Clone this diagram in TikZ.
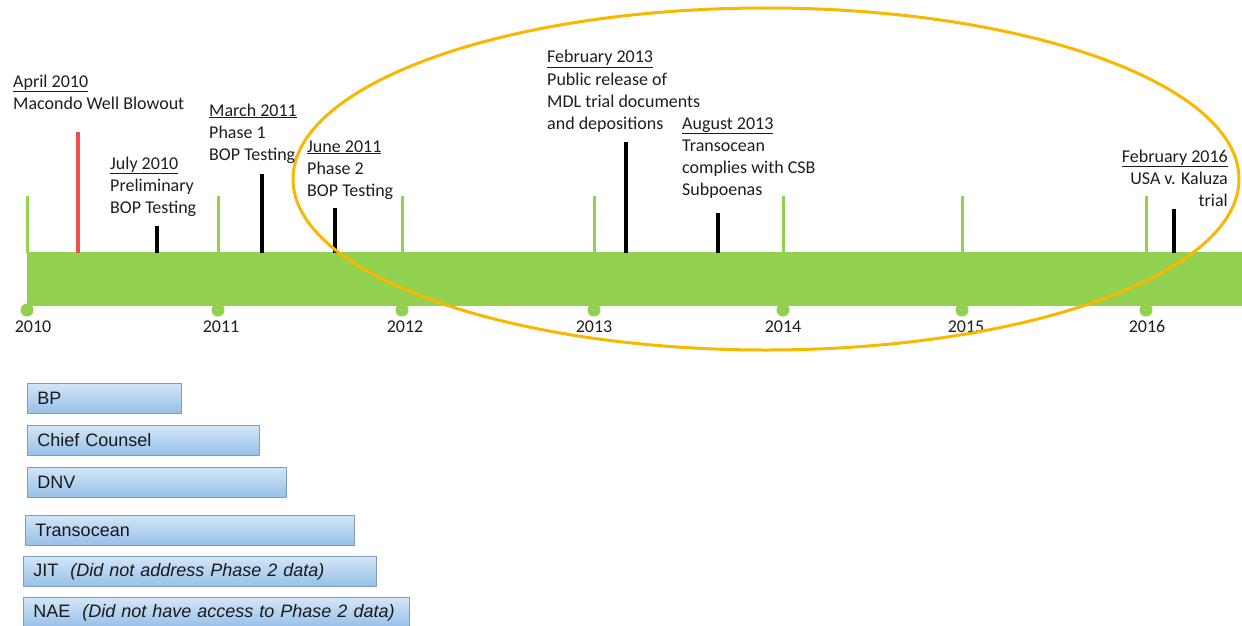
\documentclass[tikz,border=0pt]{standalone}
\usepackage{fontspec}
\setmainfont{Carlito}
\newfontfamily\arialf{Liberation Sans}
\definecolor{tlgreen}{HTML}{92D050}
\definecolor{tlred}{HTML}{F04E4E}
\definecolor{tlorange}{HTML}{F8B800}
\definecolor{tltext}{HTML}{1E1E1E}
\definecolor{boxtop}{HTML}{D2E6F8}
\definecolor{boxbot}{HTML}{96C0E8}
\definecolor{boxedge}{HTML}{7E9CC0}
\begin{document}
\begin{tikzpicture}[x=1pt,y=-1pt,
  lbl/.style={anchor=base west,inner sep=0pt,text=tltext,font=\fontsize{18}{22}\selectfont},
  lblr/.style={anchor=base east,inner sep=0pt,text=tltext,font=\fontsize{18}{22}\selectfont},
  yearlbl/.style={anchor=base,inner sep=0pt,text=tltext,font=\fontsize{18}{22}\selectfont},
  yeartick/.style={draw=tlgreen,line width=3pt},
  evtick/.style={draw=black,line width=4pt},
  redtick/.style={draw=tlred,line width=4pt},
  orgbox/.style={anchor=north west,draw=boxedge,line width=0.8pt,top color=boxtop,bottom color=boxbot,
    minimum height=30pt,inner xsep=10pt,inner ysep=0pt,align=left,text=black!90,
    font=\arialf\fontsize{18}{21}\selectfont}
]
\useasboundingbox (0,0) rectangle (1242,626);
\fill[white] (0,0) rectangle (1242,626);

% green bar
\fill[tlgreen] (27,252) rectangle (1242,306);
% year ticks, dots and labels
\foreach \x/\yr/\dx in {27/2010/6,218/2011/3,402/2012/3,594/2013/0,783/2014/0,962/2015/4,1146/2016/1}{
  \draw[yeartick] (\x,253) -- (\x,196);
  \fill[tlgreen] (\x,310) circle (6.5);
  \node[yearlbl] (y\yr) at (\x+\dx,332) {\yr};
}
% event ticks
\draw[redtick] (78,253) -- (78,132);
\draw[evtick] (157,253) -- (157,226);
\draw[evtick] (262,253) -- (262,174);
\draw[evtick] (335,253) -- (335,208);
\draw[evtick] (626,253) -- (626,142);
\draw[evtick] (718,253) -- (718,213);
\draw[evtick] (1174,253) -- (1174,209);

% ellipse
\draw[tlorange,line width=3pt] (766,179) ellipse [x radius=473,y radius=171];

% event labels
\node[lbl] (a1) at (13,87) {\underline{April 2010}};
\node[lbl] (a2) at (13,110) {Macondo Well Blowout};

\node[lbl] (b1) at (110,169) {\underline{July 2010}};
\node[lbl] (b2) at (110,191) {Preliminary};
\node[lbl] (b3) at (110,213) {BOP Testing};

\node[lbl] (c1) at (209,116) {\underline{March 2011}};
\node[lbl] (c2) at (209,138) {Phase 1};
\node[lbl] (c3) at (209,160) {BOP Testing};

\node[lbl] (d1) at (307,152) {\underline{June 2011}};
\node[lbl] (d2) at (307,174) {Phase 2};
\node[lbl] (d3) at (307,196) {BOP Testing};

\node[lbl] (e1) at (547,63) {\underline{February 2013}};
\node[lbl] (e2) at (547,85) {Public release of};
\node[lbl] (e3) at (547,107) {MDL trial documents};
\node[lbl] (e4) at (547,129) {and depositions};

\node[lbl] (f1) at (682,129) {\underline{August 2013}};
\node[lbl] (f2) at (682,151) {Transocean};
\node[lbl] (f3) at (682,173) {complies with CSB};
\node[lbl] (f4) at (682,195) {Subpoenas};

\node[lblr] (g1) at (1228,162) {\underline{February 2016}};
\node[lblr] (g2) at (1228,184) {USA v. Kaluza};
\node[lblr] (g3) at (1228,206) {trial};

% organisation boxes
\node[orgbox,text width=134pt] (bp) at (27,383) {BP};
\node[orgbox,text width=212pt] (cc) at (27,425) {Chief Counsel};
\node[orgbox,text width=239pt] (dnv) at (27,467) {DNV};
\node[orgbox,text width=309pt] (to) at (25,515) {Transocean};
\node[orgbox,text width=333pt] (jit) at (23,556) {JIT\ \ \textit{(Did not address Phase 2 data)}};
\node[orgbox,text width=366pt] (nae) at (23,597) {NAE\ \ \textit{(Did not have access to Phase 2 data)}};
\end{tikzpicture}
\end{document}
